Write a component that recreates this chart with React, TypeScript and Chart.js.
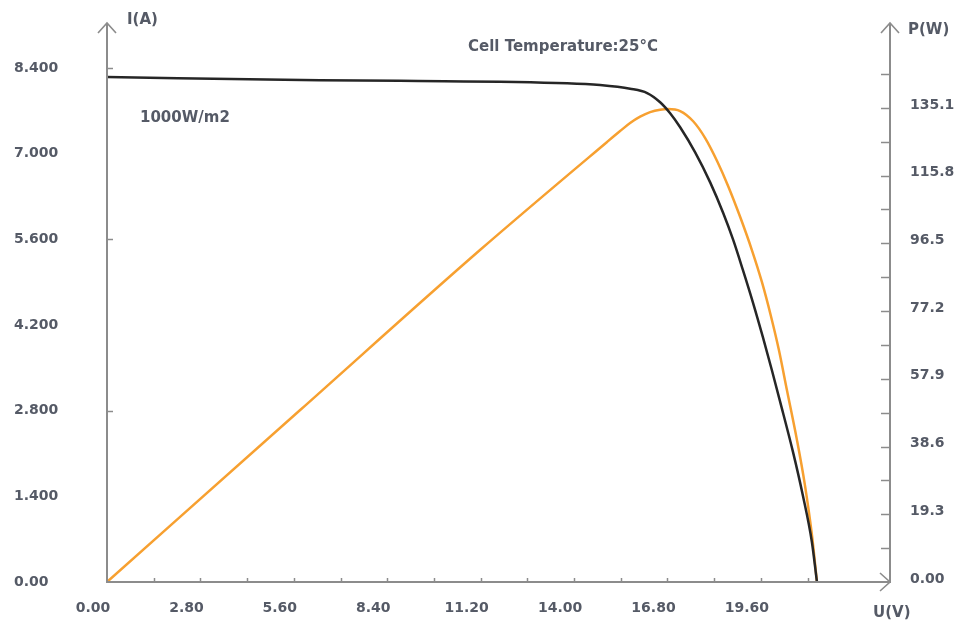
import React, { useEffect, useRef } from "react";
import { Chart, registerables } from "chart.js";

Chart.register(...registerables);

// I-V curve (black)
const ivVoltage = [0, 6.38, 8.78, 13.79, 14.78, 15.68, 16.19, 16.58, 16.88, 17.18, 17.63, 18.08, 18.47, 18.77, 19.06, 19.36, 19.66, 19.93, 20.17, 20.56, 20.86, 21.13, 21.28];
const ivCurrent = [8.25, 8.2, 8.19, 8.15, 8.12, 8.06, 7.99, 7.84, 7.66, 7.43, 7.02, 6.53, 6.03, 5.59, 5.1, 4.57, 4.0, 3.46, 2.96, 2.13, 1.41, 0.65, 0];

// P-V curve (orange)
const pvVoltage = [0, 5.79, 11.18, 14.99, 15.38, 15.68, 15.98, 16.28, 16.58, 16.82, 17.18, 17.57, 17.93, 18.29, 18.62, 18.98, 19.33, 19.63, 19.9, 20.14, 20.38, 20.68, 20.92, 21.13, 21.28];
const pvPower = [0, 49.0, 94.6, 125.4, 128.5, 130.8, 132.6, 133.9, 134.6, 134.8, 134.2, 131.3, 126.5, 119.9, 112.8, 104.0, 94.6, 85.5, 75.8, 66.1, 54.7, 40.5, 27.6, 13.4, 0];

// Tick labels
const voltageLabels = [0, 2.8, 5.6, 8.4, 11.2, 14.0, 16.8, 19.6];
const currentLabels = [0, 1.4, 2.8, 4.2, 5.6, 7.0, 8.4];
const powerLabels = [0, 19.3, 38.6, 57.9, 77.2, 96.5, 115.8, 135.1];

// Tick marks
const voltageMarks = [1.4, 2.8, 4.2, 5.6, 7.0, 8.4, 9.8, 11.2, 12.6, 14.0, 15.4, 16.8, 18.2, 19.6, 21.0];
const currentMarks = [2.8, 5.6, 8.4];
const powerMarks = [9.65, 19.3, 28.95, 38.6, 48.25, 57.9, 67.55, 77.2, 86.85, 96.5, 106.15, 115.8, 125.45, 135.1, 144.75];

const X_MAX = 23.47;
const I_MAX = 9.02;
const P_MAX = 157.3;

const FONT = "'DejaVu Sans', sans-serif";
const TEXT_COLOR = "#555a66";
const AXIS_COLOR = "#8c8c8c";

export default function App() {
  const canvasRef = useRef<HTMLCanvasElement | null>(null);

  useEffect(() => {
    const canvas = canvasRef.current;
    if (!canvas) return;

    const axesPlugin = {
      id: "axesPlugin",
      afterDraw(chart: any) {
        const ctx = chart.ctx;
        const { left, right, bottom } = chart.chartArea;
        const xs = chart.scales.x;
        const yl = chart.scales.yI;
        const yr = chart.scales.yP;
        ctx.save();
        ctx.strokeStyle = AXIS_COLOR;
        ctx.lineWidth = 2;
        ctx.lineCap = "butt";
        const tipY = 23;
        // left axis
        ctx.beginPath();
        ctx.moveTo(left, bottom + 1);
        ctx.lineTo(left, tipY);
        ctx.stroke();
        ctx.lineWidth = 1.6;
        ctx.beginPath();
        ctx.moveTo(left - 9, tipY + 10);
        ctx.lineTo(left, tipY);
        ctx.lineTo(left + 9, tipY + 10);
        ctx.stroke();
        // right axis
        ctx.lineWidth = 2;
        ctx.beginPath();
        ctx.moveTo(right, bottom + 1);
        ctx.lineTo(right, tipY);
        ctx.stroke();
        ctx.lineWidth = 1.6;
        ctx.beginPath();
        ctx.moveTo(right - 9, tipY + 10);
        ctx.lineTo(right, tipY);
        ctx.lineTo(right + 9, tipY + 10);
        ctx.stroke();
        // x axis
        ctx.lineWidth = 2;
        ctx.beginPath();
        ctx.moveTo(left - 1, bottom);
        ctx.lineTo(right, bottom);
        ctx.stroke();
        ctx.lineWidth = 1.6;
        ctx.beginPath();
        ctx.moveTo(right - 10, bottom - 9);
        ctx.lineTo(right, bottom);
        ctx.lineTo(right - 10, bottom + 9);
        ctx.stroke();
        // tick marks
        ctx.lineWidth = 1.5;
        voltageMarks.forEach((v) => {
          const px = Math.round(xs.getPixelForValue(v)) + 0.5;
          ctx.beginPath();
          ctx.moveTo(px, bottom);
          ctx.lineTo(px, bottom - 4);
          ctx.stroke();
        });
        currentMarks.forEach((v) => {
          const py = Math.round(yl.getPixelForValue(v)) + 0.5;
          ctx.beginPath();
          ctx.moveTo(left, py);
          ctx.lineTo(left + 6, py);
          ctx.stroke();
        });
        powerMarks.forEach((v) => {
          const py = Math.round(yr.getPixelForValue(v)) + 0.5;
          ctx.beginPath();
          ctx.moveTo(right, py);
          ctx.lineTo(right - 9, py);
          ctx.stroke();
        });
        // texts
        ctx.fillStyle = TEXT_COLOR;
        ctx.font = `bold 15px ${FONT}`;
        ctx.textBaseline = "middle";
        ctx.textAlign = "left";
        ctx.fillText("I(A)", 127, 20);
        ctx.fillText("P(W)", 908, 30);
        ctx.fillText("U(V)", 873, 613);
        ctx.fillText("1000W/m2", 140, 118);
        ctx.fillText("Cell Temperature:25\u00B0C", 468, 47);
        ctx.restore();
      },
    };

    const chart = new Chart(canvas, {
      type: "line",
      data: {
        datasets: [
          {
            label: "I-V",
            data: ivVoltage.map((v, i) => ({ x: v, y: ivCurrent[i] })),
            borderColor: "#262626",
            borderWidth: 2.5,
            pointRadius: 0,
            cubicInterpolationMode: "monotone",
            yAxisID: "yI",
            fill: false,
          },
          {
            label: "P-V",
            data: pvVoltage.map((v, i) => ({ x: v, y: pvPower[i] })),
            borderColor: "#f7a030",
            borderWidth: 2.5,
            pointRadius: 0,
            cubicInterpolationMode: "monotone",
            yAxisID: "yP",
            fill: false,
          },
        ],
      },
      options: {
        animation: false,
        responsive: false,
        maintainAspectRatio: false,
        layout: { padding: { left: 14, top: 30, right: 0, bottom: 0 } },
        plugins: {
          legend: { display: false },
          tooltip: { enabled: false },
          title: { display: false },
        },
        scales: {
          x: {
            type: "linear",
            min: 0,
            max: X_MAX,
            border: { display: false },
            grid: { display: false, drawTicks: false },
            afterBuildTicks: (scale: any) => {
              scale.ticks = voltageLabels.map((v) => ({ value: v }));
            },
            afterFit: (scale: any) => {
              scale.height = 42;
            },
            ticks: {
              padding: 18,
              labelOffset: -14,
              maxRotation: 0,
              autoSkip: false,
              color: TEXT_COLOR,
              font: { family: FONT, size: 14, weight: "bold" },
              callback: (v: any) => Number(v).toFixed(2),
            },
          },
          yI: {
            type: "linear",
            position: "left",
            min: 0,
            max: I_MAX,
            border: { display: false },
            grid: { display: false, drawTicks: false },
            afterBuildTicks: (scale: any) => {
              scale.ticks = currentLabels.map((v) => ({ value: v }));
            },
            afterFit: (scale: any) => {
              scale.width = 93;
            },
            ticks: {
              crossAlign: "far",
              autoSkip: false,
              color: TEXT_COLOR,
              font: { family: FONT, size: 14, weight: "bold" },
              callback: (v: any) => (Number(v) === 0 ? "0.00" : Number(v).toFixed(3)),
            },
          },
          yP: {
            type: "linear",
            position: "right",
            min: 0,
            max: P_MAX,
            border: { display: false },
            grid: { display: false, drawTicks: false },
            afterBuildTicks: (scale: any) => {
              scale.ticks = powerLabels.map((v) => ({ value: v }));
            },
            afterFit: (scale: any) => {
              scale.width = 69;
            },
            ticks: {
              padding: 20,
              labelOffset: -3,
              autoSkip: false,
              color: TEXT_COLOR,
              font: { family: FONT, size: 14, weight: "bold" },
              callback: (v: any) => (Number(v) === 0 ? "0.00" : Number(v).toFixed(1)),
            },
          },
        },
      },
      plugins: [axesPlugin],
    } as any);

    return () => {
      chart.destroy();
    };
  }, []);

  return (
    <div style={{ position: "fixed", left: 0, top: 0, width: 959, height: 624, background: "#fff" }}>
      <canvas ref={canvasRef} width={959} height={624} style={{ width: 959, height: 624, display: "block" }} />
    </div>
  );
}
